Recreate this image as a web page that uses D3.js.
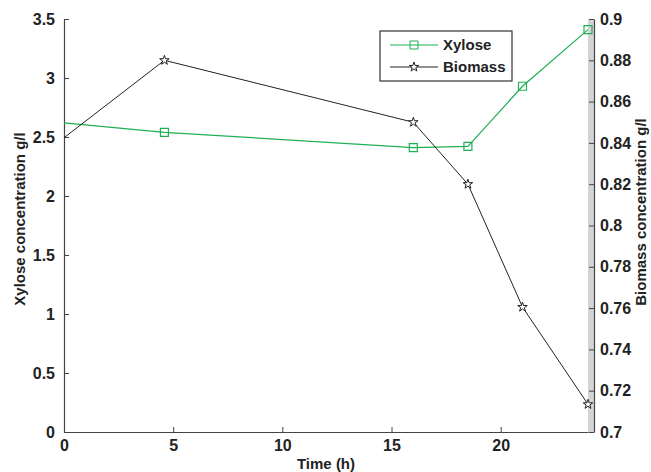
<!DOCTYPE html>
<html>
<head>
<meta charset="utf-8">
<script src="https://cdn.jsdelivr.net/npm/d3@7"></script>
<style>
  body { margin: 0; background: #fff; }
  text { font-family: "Liberation Sans", Arial, sans-serif; font-weight: bold; fill: #222; }
</style>
</head>
<body>
<div id="chart"></div>
<script>
// data
var timeH = [0, 4.6, 16, 18.5, 21, 24];
var xylose = [2.62, 2.54, 2.41, 2.42, 2.93, 3.41];
var biomass = [0.8425, 0.880, 0.850, 0.820, 0.7605, 0.7134];
var xTicks = [0, 5, 10, 15, 20];
var yLeftTicks = [0, 0.5, 1, 1.5, 2, 2.5, 3, 3.5];
var yRightTicks = [0.7, 0.72, 0.74, 0.76, 0.78, 0.8, 0.82, 0.84, 0.86, 0.88, 0.9];

var svgWidth = 651;
var svgHeight = 472;
var margin = { top: 19, right: 63, bottom: 40, left: 64 };
var width = 588 - margin.left;   // main axes box
var height = 432 - margin.top;
var rightAxisX = 594;             // second axes sits a bit to the right

var svg = d3.select("#chart").append("svg")
  .attr("width", svgWidth)
  .attr("height", svgHeight);

var chartGroup = svg.append("g")
  .attr("transform", `translate(${margin.left}, ${margin.top})`);

var xScale = d3.scaleLinear().domain([0, 24]).range([0, width]);
var yLeft = d3.scaleLinear().domain([0, 3.5]).range([height, 0]);
var yRight = d3.scaleLinear().domain([0.7, 0.9]).range([height, 0]);

var green = "#1fae54";
var axisColor = "#444";

// grey gap between the two axes
chartGroup.append("rect")
  .attr("x", width)
  .attr("y", 0)
  .attr("width", rightAxisX - margin.left - width)
  .attr("height", height)
  .attr("fill", "#d4d4d4");

// axes (ticks pointing inside)
var bottomAxis = d3.axisBottom(xScale).tickValues(xTicks).tickSizeInner(-5).tickSizeOuter(0).tickPadding(8);
var leftAxis = d3.axisLeft(yLeft).tickValues(yLeftTicks).tickSizeInner(-5).tickSizeOuter(0).tickPadding(9)
  .tickFormat(d3.format("~g"));
var rightAxis = d3.axisRight(yRight).tickValues(yRightTicks).tickSizeInner(-5).tickSizeOuter(0).tickPadding(6)
  .tickFormat(d3.format("~g"));

var xAxis = chartGroup.append("g")
  .attr("transform", `translate(0, ${height})`)
  .call(bottomAxis);

var yAxisL = chartGroup.append("g").call(leftAxis);

var yAxisR = chartGroup.append("g")
  .attr("transform", `translate(${rightAxisX - margin.left}, 0)`)
  .call(rightAxis);

[xAxis, yAxisL, yAxisR].forEach(function(ax) {
  ax.select(".domain").attr("stroke", axisColor).attr("stroke-width", 1.2);
  ax.selectAll(".tick line").attr("stroke", axisColor);
  ax.selectAll(".tick text")
    .attr("font-size", 16)
    .attr("font-family", "Liberation Sans, Arial, sans-serif")
    .attr("font-weight", "bold")
    .attr("fill", "#222");
});

// lines
var xyLine = d3.line().x((d, i) => xScale(timeH[i])).y(d => yLeft(d));
var bioLine = d3.line().x((d, i) => xScale(timeH[i])).y(d => yRight(d));

chartGroup.append("path")
  .datum(xylose)
  .attr("d", xyLine)
  .attr("fill", "none")
  .attr("stroke", green)
  .attr("stroke-width", 1.2);

chartGroup.append("path")
  .datum(biomass)
  .attr("d", bioLine)
  .attr("fill", "none")
  .attr("stroke", "#222")
  .attr("stroke-width", 1);

var square = d3.symbol().type(d3.symbolSquare).size(64);
var star = d3.symbol().type(d3.symbolStar).size(28);

// the first sample (t=0) has no marker in the original
chartGroup.selectAll(".xy-pt")
  .data(xylose.slice(1))
  .enter()
  .append("path")
  .attr("class", "xy-pt")
  .attr("d", square)
  .attr("transform", (d, i) => `translate(${xScale(timeH[i + 1])}, ${yLeft(d)})`)
  .attr("fill", "none")
  .attr("stroke", green)
  .attr("stroke-width", 1.2);

chartGroup.selectAll(".bio-pt")
  .data(biomass.slice(1))
  .enter()
  .append("path")
  .attr("class", "bio-pt")
  .attr("d", star)
  .attr("transform", (d, i) => `translate(${xScale(timeH[i + 1])}, ${yRight(d)})`)
  .attr("fill", "#fff")
  .attr("stroke", "#222")
  .attr("stroke-width", 1);

// axis labels
svg.append("text")
  .attr("x", 326)
  .attr("y", 469)
  .attr("text-anchor", "middle")
  .attr("font-size", 15)
  .text("Time (h)");

svg.append("text")
  .attr("transform", "translate(25, 219) rotate(-90)")
  .attr("text-anchor", "middle")
  .attr("font-size", 15)
  .text("Xylose concentration g/l");

svg.append("text")
  .attr("transform", "translate(646, 212) rotate(-90)")
  .attr("text-anchor", "middle")
  .attr("font-size", 15)
  .text("Biomass concentration g/l");

// legend
var legend = svg.append("g").attr("transform", "translate(380, 31)");
legend.append("rect")
  .attr("width", 132)
  .attr("height", 50)
  .attr("fill", "#fff")
  .attr("stroke", "#333")
  .attr("stroke-width", 1.2);

var legendItems = [
  { name: "Xylose", color: green, sym: square, fill: "none", y: 14 },
  { name: "Biomass", color: "#222", sym: star, fill: "#fff", y: 36 }
];

legendItems.forEach(function(item) {
  legend.append("line")
    .attr("x1", 10).attr("x2", 58)
    .attr("y1", item.y).attr("y2", item.y)
    .attr("stroke", item.color)
    .attr("stroke-width", 1.2);
  legend.append("path")
    .attr("d", item.sym)
    .attr("transform", `translate(34, ${item.y})`)
    .attr("fill", item.fill)
    .attr("stroke", item.color);
  legend.append("text")
    .attr("x", 63)
    .attr("y", item.y + 5)
    .attr("font-size", 15)
    .text(item.name);
});
</script>
</body>
</html>
